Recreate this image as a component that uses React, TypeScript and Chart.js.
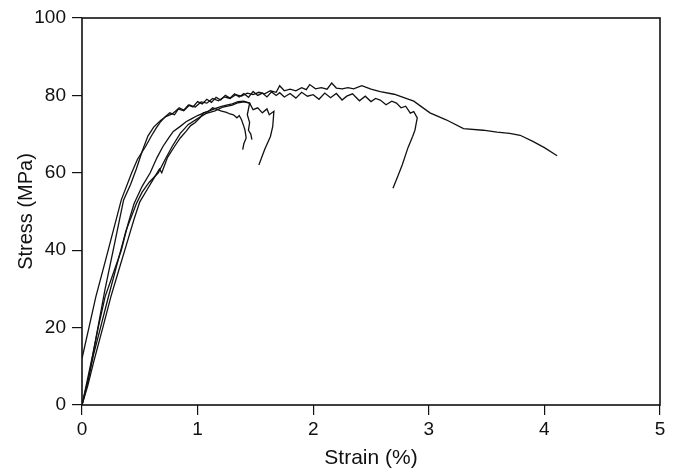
import React, { useEffect, useRef } from "react";
import { Chart, registerables } from "chart.js";

Chart.register(...registerables);

// Strain (%) and stress (MPa) of the five specimens
const strainA = [0, 0.05, 0.1, 0.15, 0.2, 0.27, 0.36, 0.42, 0.47, 0.52, 0.57, 0.62, 0.68, 0.73, 0.78, 0.83, 0.88, 0.93, 0.98, 1.03, 1.08, 1.13, 1.18, 1.23, 1.28, 1.33, 1.38, 1.43, 1.48, 1.53, 1.58, 1.63, 1.68, 1.71, 1.75, 1.8, 1.85, 1.9, 1.94, 1.97, 2.02, 2.07, 2.12, 2.16, 2.2, 2.25, 2.3, 2.35, 2.42, 2.5, 2.58, 2.7, 2.87, 3.01, 3.15, 3.3, 3.47, 3.59, 3.7, 3.79, 3.9, 4.0, 4.11];
const stressA = [0, 7, 14, 22, 30, 40, 53, 57, 61, 65.5, 69.5, 71.8, 73.5, 74.6, 75.2, 76.5, 76, 77.5, 77, 78.3, 78, 79.2, 78.6, 79.6, 79.2, 80.2, 79.8, 80.6, 80.2, 80.8, 80.4, 81.2, 80.8, 82.5, 81.2, 81.6, 81.2, 82, 81.5, 82.8, 81.7, 82, 81.6, 83.2, 81.9, 81.7, 82, 81.7, 82.5, 81.6, 81, 80.3, 78.5, 75.5, 73.7, 71.4, 71, 70.5, 70.2, 69.7, 68.1, 66.5, 64.4];

const strainB = [0, 0.06, 0.12, 0.2, 0.27, 0.34, 0.43, 0.48, 0.55, 0.6, 0.64, 0.68, 0.72, 0.76, 0.8, 0.84, 0.88, 0.92, 0.96, 1.0, 1.04, 1.08, 1.12, 1.16, 1.2, 1.24, 1.28, 1.32, 1.36, 1.4, 1.44, 1.48, 1.52, 1.56, 1.6, 1.64, 1.68, 1.71, 1.75, 1.8, 1.85, 1.9, 1.95, 2.0, 2.05, 2.1, 2.15, 2.2, 2.25, 2.29, 2.34, 2.4, 2.45, 2.5, 2.54, 2.58, 2.63, 2.68, 2.72, 2.76, 2.8, 2.84, 2.87, 2.9, 2.88, 2.86, 2.82, 2.77, 2.73, 2.69];
const stressB = [12, 20, 28, 37, 45, 53, 60, 63.5, 66.8, 69.5, 71.5, 73.2, 74.5, 75.5, 75, 76.8, 76.2, 77.5, 77, 78.4, 77.8, 79, 78.2, 79.5, 78.8, 80, 79.3, 80.4, 79.6, 80.5, 79.5, 81, 80, 80.6, 79.6, 80.9, 80, 80.7, 79.6, 80.5, 79.3, 80.8, 79.8, 80.2, 79, 80.6, 79.4, 80.5, 78.8, 79.8, 80.4, 78.6, 79.8, 78.4, 79.2, 78.8, 77.6, 78.5, 78, 76.8, 77.2, 75.4, 75.8, 74.2, 71, 69.4, 66.5, 62, 59, 56];

const strainC = [0, 0.05, 0.1, 0.14, 0.2, 0.27, 0.34, 0.4, 0.45, 0.52, 0.59, 0.65, 0.7, 0.75, 0.79, 0.85, 0.9, 0.95, 1.0, 1.05, 1.1, 1.15, 1.2, 1.25, 1.3, 1.35, 1.4, 1.45, 1.48, 1.52, 1.56, 1.6, 1.62, 1.66, 1.65, 1.63, 1.58, 1.53];
const stressC = [0, 6, 14, 20, 28, 34, 40, 47, 52, 56.5, 60, 64, 66.8, 69, 70.7, 72, 73.2, 74, 74.8, 75.4, 76, 76.6, 77.1, 77.5, 77.8, 78.4, 78.5, 78, 76.3, 76.8, 75.5, 76.5, 75, 75.9, 72, 69.4, 66, 62];

const strainD = [0, 0.05, 0.1, 0.18, 0.25, 0.32, 0.4, 0.45, 0.5, 0.56, 0.62, 0.67, 0.69, 0.74, 0.8, 0.85, 0.9, 0.94, 0.98, 1.02, 1.05, 1.09, 1.13, 1.17, 1.2, 1.25, 1.28, 1.31, 1.34, 1.36, 1.38, 1.4, 1.41, 1.42, 1.4, 1.39];
const stressD = [0, 5, 11, 20, 28, 35, 43, 48, 52.5, 55.5, 58.5, 61, 60, 64, 66.8, 69, 70.7, 72.2, 73, 74.2, 75.5, 75.8, 76.8, 76.4, 76, 75.6, 75.2, 75, 74.2, 74.8, 73.7, 72, 71, 69, 67.5, 66];

const strainE = [0, 0.05, 0.1, 0.16, 0.22, 0.3, 0.38, 0.47, 0.52, 0.58, 0.66, 0.72, 0.78, 0.85, 0.92, 1.0, 1.07, 1.15, 1.22, 1.3, 1.35, 1.4, 1.45, 1.43, 1.45, 1.44, 1.46, 1.47];
const stressE = [0, 6, 13, 20, 27, 36, 45, 52, 55, 57.5, 60, 63.5, 66.8, 70.2, 72.5, 74, 75.3, 76, 77, 77.5, 78.1, 78.3, 78, 75, 73, 71, 70, 68.6];

const xTicks = [0, 1, 2, 3, 4, 5];
const yTicks = [0, 20, 40, 60, 80, 100];

const FONT = "'Liberation Sans', Arial, Helvetica, sans-serif";

function pts(xs: number[], ys: number[]) {
  return xs.map((x, i) => ({ x, y: ys[i] }));
}

const framePlugin = {
  id: "frame",
  afterDatasetsDraw(chart: any) {
    const { ctx, chartArea } = chart;
    ctx.save();
    ctx.strokeStyle = "#111";
    ctx.lineWidth = 1.6;
    ctx.strokeRect(chartArea.left, chartArea.top, chartArea.right - chartArea.left, chartArea.bottom - chartArea.top);
    ctx.restore();
  },
};

export default function App() {
  const ref = useRef<HTMLCanvasElement>(null);
  useEffect(() => {
    if (!ref.current) return;
    const series = [
      pts(strainA, stressA),
      pts(strainB, stressB),
      pts(strainC, stressC),
      pts(strainD, stressD),
      pts(strainE, stressE),
    ];
    const chart = new Chart(ref.current, {
      type: "scatter",
      data: {
        datasets: series.map((d, i) => ({
          label: "S" + (i + 1),
          data: d,
          showLine: true,
          borderColor: "#111",
          borderWidth: 1.3,
          pointRadius: 0,
          tension: 0,
          fill: false,
        })),
      },
      options: {
        animation: false,
        responsive: false,
        devicePixelRatio: 1,
        layout: { padding: { top: 18, right: 21, left: 0, bottom: 0 } },
        plugins: { legend: { display: false }, tooltip: { enabled: false } },
        scales: {
          x: {
            type: "linear",
            min: 0,
            max: 5,
            afterBuildTicks: (s: any) => {
              s.ticks = xTicks.map((v) => ({ value: v }));
            },
            afterFit: (s: any) => {
              s.height = 66;
            },
            border: { display: false },
            grid: { drawOnChartArea: false, drawTicks: true, tickLength: 10, color: "#111", lineWidth: 1.2 },
            ticks: { color: "#111", font: { family: FONT, size: 19 }, padding: 3, maxRotation: 0 },
            title: { display: true, text: "Strain (%)", color: "#111", font: { family: FONT, size: 21 }, padding: { top: 0, bottom: 0 } },
          },
          y: {
            type: "linear",
            min: 0,
            max: 100,
            afterBuildTicks: (s: any) => {
              s.ticks = yTicks.map((v) => ({ value: v }));
            },
            afterFit: (s: any) => {
              s.width = 82;
            },
            border: { display: false },
            grid: { drawOnChartArea: false, drawTicks: true, tickLength: 10, color: "#111", lineWidth: 1.2 },
            ticks: { color: "#111", font: { family: FONT, size: 19 }, padding: 6 },
            title: { display: true, text: "Stress (MPa)", color: "#111", font: { family: FONT, size: 20 }, padding: { top: 14, bottom: 0 } },
          },
        },
      },
      plugins: [framePlugin],
    } as any);
    return () => chart.destroy();
  }, []);
  return (
    <div style={{ position: "absolute", left: 0, top: 0, width: 681, height: 471, background: "#fff" }}>
      <canvas ref={ref} width={681} height={471} style={{ display: "block" }} />
    </div>
  );
}
